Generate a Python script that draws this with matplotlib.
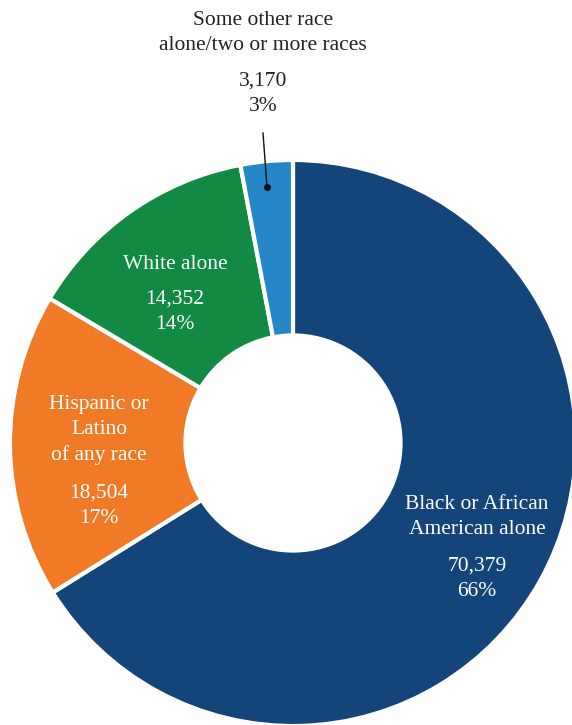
import matplotlib.pyplot as plt

labels = ["Black or African\nAmerican alone", "Hispanic or\nLatino\nof any race",
          "White alone", "Some other race\nalone/two or more races"]
counts = [70379, 18504, 14352, 3170]
shares = ["66%", "17%", "14%", "3%"]
colors = ["#13457a", "#f07a26", "#128a43", "#2587c8"]

plt.rcParams['font.family'] = ['Liberation Serif', 'DejaVu Serif']

fig = plt.figure(figsize=(5.72, 7.25), dpi=100)
ax = fig.add_axes([0, 0, 1, 1])

# pixel-like frame: x right, y up (y = -pixel row)
cx, cy, r = 293, 443, 283
ax.pie(counts, colors=colors, startangle=90, counterclock=False,
       center=(cx, -cy), radius=r, frame=True,
       wedgeprops=dict(width=r * 0.62, edgecolor='white', linewidth=3))
ax.set_xlim(0, 572)
ax.set_ylim(-725, 0)
ax.set_aspect('auto')
ax.axis('off')

fs = 15.5
def txt(x, y, s, color='white'):
    ax.text(x, -y, s, ha='center', va='center', fontsize=fs, color=color,
            linespacing=1.45)

# Black
txt(477, 517, labels[0])
txt(477, 579, f"{counts[0]:,}\n{shares[0]}")
# Hispanic
txt(99, 430, labels[1])
txt(99, 506, f"{counts[1]:,}\n{shares[1]}")
# White
txt(175, 264, labels[2])
txt(175, 312, f"{counts[2]:,}\n{shares[2]}")
# Other (outside)
txt(263, 33, labels[3], color='#222222')
txt(263, 94, f"{counts[3]:,}\n{shares[3]}", color='#222222')
ax.plot([263, 267], [-133, -187], color='#111111', lw=1, zorder=5)
ax.plot([267], [-187], 'o', color='#111111', ms=4, zorder=5)

fig.savefig("out.png", dpi=100)
